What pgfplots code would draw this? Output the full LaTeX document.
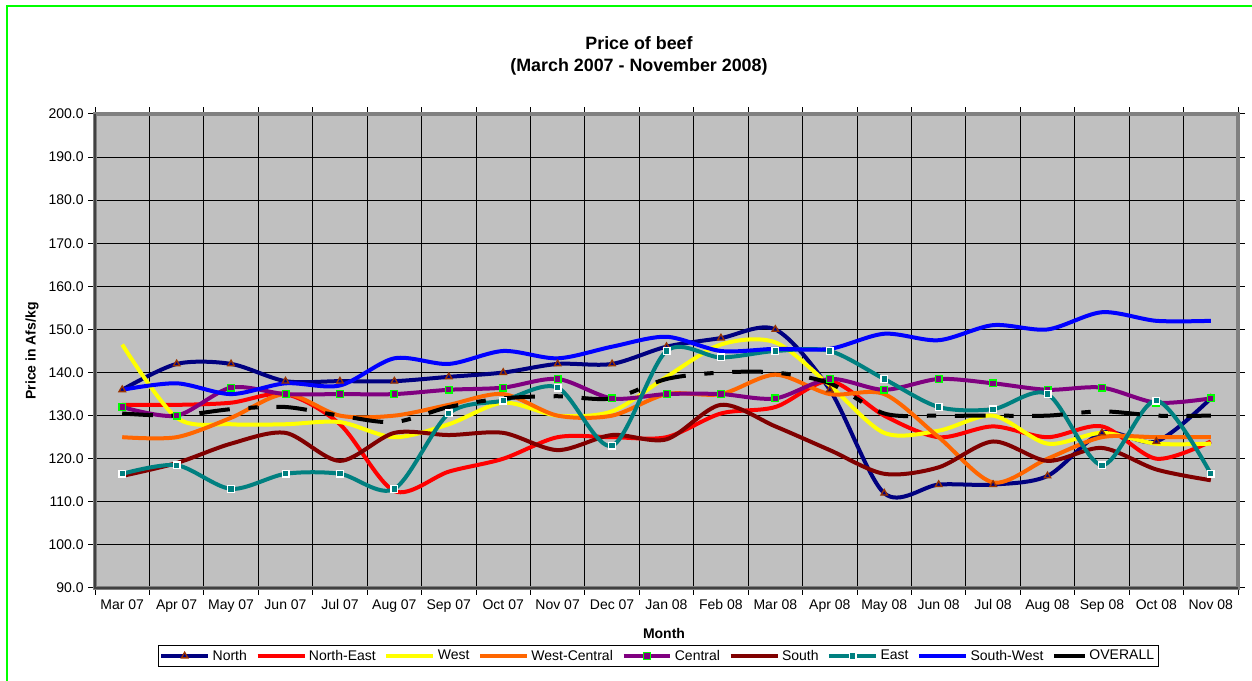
\documentclass[border=0pt]{standalone}
\usepackage{fontspec}
\setmainfont{Liberation Sans}
\usepackage{pgfplots}
\usepackage{pgfplotstable}
\pgfplotsset{compat=1.18}

\definecolor{plotgray}{RGB}{192,192,192}
\definecolor{bordergray}{RGB}{128,128,128}
\definecolor{cNorth}{RGB}{0,0,128}
\definecolor{cNE}{RGB}{255,0,0}
\definecolor{cWest}{RGB}{255,255,0}
\definecolor{cWC}{RGB}{255,102,0}
\definecolor{cCentral}{RGB}{128,0,128}
\definecolor{cSouth}{RGB}{128,0,0}
\definecolor{cEast}{RGB}{0,128,128}
\definecolor{cSW}{RGB}{0,0,255}
\definecolor{mkbrown}{RGB}{153,51,0}
\definecolor{mkgreen}{RGB}{0,255,0}
\definecolor{framegreen}{RGB}{0,255,0}

% prices in Afs/kg, x = month index (0 = Mar 07)
\pgfplotstableread{
x  North NE    West  WC    Central South East  SW    Overall
0  136   132.5 146.5 125   132     116   116.5 136   130.5
1  142   132.5 129.5 125   130     119   118.5 137.5 130
2  142   133   128   129.5 136.5   123.5 113   135   131.5
3  138   135   128   135   135     126   116.5 137.5 132
4  138   128   128.5 130   135     119.5 116.5 137   130
5  138   112.5 125   130   135     126   113   143.3 128.5
6  139   117   128   132.5 136     125.5 130.5 142   132
7  140   120   133   135   136.5   126   133.5 145   134
8  142   125   130   130   138.5   122   136.5 143.3 134.5
9  142   125   131   130   134     125.5 123   146   134
10 146   125   139   135   135     124.5 145   148.3 138.5
11 148   130.5 146.5 135   135     132.5 143.5 145   140
12 150   132   147   139.5 134     127.5 145   145.5 140
13 136   138   137   135   138.5   122   145   145.5 137.5
14 112   130   126   135   136     116.5 138.5 149   130.5
15 114   125   126.5 125   138.5   118   132   147.5 130
16 114   127.5 130   114.5 137.5   124   131.5 151   130
17 116   125   123.5 120   136     119.5 135   150   130
18 126   127.5 126   125   136.5   122.5 118.5 154   131
19 124   120   123.5 125   133     117.5 133.5 152   130
20 134   124   123.5 125   134     115   116.5 152   130
}\beef

\begin{document}
\begin{tikzpicture}[x=0.75pt,y=0.75pt]
\useasboundingbox (0,0) rectangle (1252,681);
\draw[framegreen, line width=1.5pt] (7,0) -- (7,675) -- (1252,675);

\node[font=\bfseries\fontsize{13.4}{16.3}\selectfont, align=center] at (639,625)
  {Price of beef\\(March 2007 - November 2008)};
\node[font=\bfseries\fontsize{10.5}{12}\selectfont, rotate=90] at (32,330) {Price in Afs/kg};
\node[font=\bfseries\fontsize{10.5}{12}\selectfont] at (664,48) {Month};

\begin{axis}[
    at={(71.25pt,69.75pt)}, anchor=south west,
    width=857.25pt, height=355.5pt, scale only axis,
    xmin=-0.5, xmax=20.5, ymin=90, ymax=200,
    xtick={0,...,20},
    xticklabels={Mar 07,Apr 07,May 07,Jun 07,Jul 07,Aug 07,Sep 07,Oct 07,Nov 07,Dec 07,Jan 08,Feb 08,Mar 08,Apr 08,May 08,Jun 08,Jul 08,Aug 08,Sep 08,Oct 08,Nov 08},
    major x tick style={draw=none},
    minor xtick={-0.5,0.5,...,20.5},
    xminorgrids=true, ymajorgrids=true,
    ytick={90,100,...,200},
    grid style={black, line width=0.75pt},
    minor grid style={black, line width=0.75pt},
    axis background/.style={fill=plotgray},
    axis line style={bordergray, line width=3.5pt},
    tick align=outside,
    tick style={black, line width=0.75pt},
    major tick length=5pt, minor tick length=5pt,
    /pgf/number format/assume math mode=true,
    y tick label style={/pgf/number format/.cd, fixed, fixed zerofill, precision=1},
    ticklabel style={font=\fontsize{10.5}{12}\selectfont},
    every axis plot/.append style={line width=3pt, smooth},
    legend style={at={(0.4926,-0.1435)}, anchor=center, legend columns=9,
        draw=black, line width=0.75pt, font=\fontsize{10.5}{12}\selectfont,
        inner sep=1pt, /tikz/every odd column/.style={column sep=0pt},
        /tikz/every even column/.style={column sep=4.5pt}},
    legend image code/.code={
        \draw[mark repeat=2,mark phase=2,#1] plot coordinates {(0pt,0pt) (17.5pt,0pt) (35pt,0pt)};
    },
    after end axis/.code={
        \draw[black!75, line width=1.5pt] (rel axis cs:0,1) -- (rel axis cs:0,0) -- (rel axis cs:1,0);
    },
]
\addplot[cNorth, mark=triangle*, mark options={draw=mkbrown, fill=cNorth, line width=1pt}, mark size=2.8pt] table[y=North] {\beef};
\addplot[cNE] table[y=NE] {\beef};
\addplot[cWest] table[y=West] {\beef};
\addplot[cWC] table[y=WC] {\beef};
\addplot[cCentral, mark=square*, mark options={draw=mkgreen, fill=cCentral, line width=1pt}, mark size=2.5pt] table[y=Central] {\beef};
\addplot[cSouth] table[y=South] {\beef};
\addplot[cEast, mark=square*, mark options={draw=white, fill=cEast, line width=1pt}, mark size=2.5pt] table[y=East] {\beef};
\addplot[cSW] table[y=SW] {\beef};
\addplot[black, dash pattern=on 23pt off 14pt on 7pt off 14pt,
    legend image code/.code={\draw[black, line width=3pt] (6pt,0pt) -- (29pt,0pt);}]
    table[y=Overall] {\beef};
\legend{North, North-East, West, West-Central, Central, South, East, South-West, OVERALL}
\end{axis}
\end{tikzpicture}
\end{document}
